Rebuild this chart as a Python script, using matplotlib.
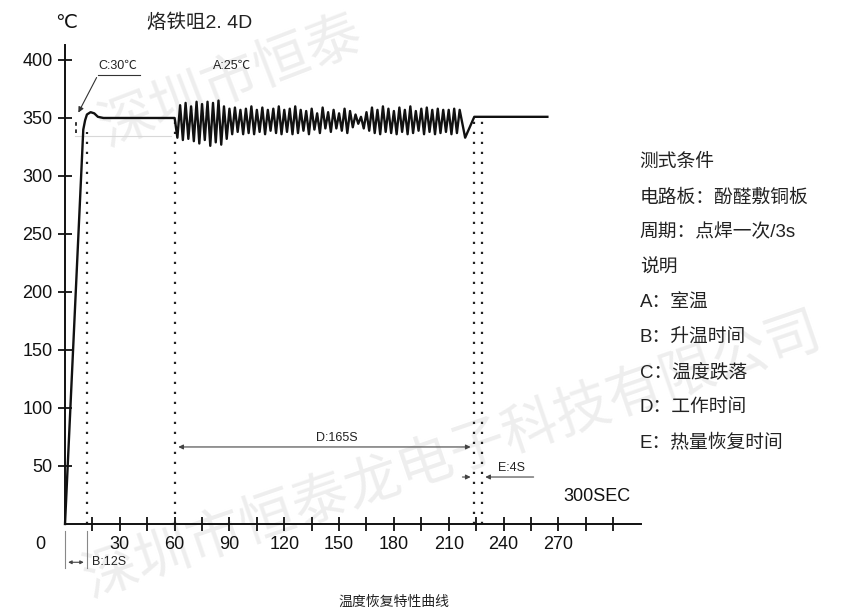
import numpy as np
import matplotlib.pyplot as plt

plt.rcParams['font.family'] = ['Liberation Sans', 'Noto Sans CJK SC', 'DejaVu Sans']

# warm-up part of the curve (s, degC)
warm_t = [0, 10, 11, 12, 14, 16, 18, 21, 60]
warm_v = [0, 340, 348, 353, 355, 354, 351, 350, 350]

# working part: one reading every 1.5 s from 60 s (soldering every 3 s)
work_v = [350, 333, 361, 331, 363, 332, 360, 330, 364, 328,
          362, 331, 364, 326, 363, 329, 365, 327, 360, 332,
          358, 336, 359, 338, 357, 336, 358, 337, 360, 336,
          357, 338, 359, 336, 357, 339, 358, 337, 360, 336,
          357, 338, 358, 336, 360, 337, 357, 339, 356, 336,
          358, 340, 354, 337, 359, 341, 355, 338, 357, 341,
          354, 339, 358, 337, 356, 342, 353, 345, 351, 341,
          355, 339, 359, 337, 357, 336, 360, 338, 358, 337,
          356, 336, 359, 338, 357, 336, 360, 337, 356, 339,
          358, 336, 359, 338, 357, 336, 358, 337, 357, 338,
          357, 336, 358, 337, 357]
work_step = 1.5

# recovery and steady part
rec_t = [219, 224, 264]
rec_v = [333, 351, 351]

yticks = [50, 100, 150, 200, 250, 300, 350, 400]
xticks = list(range(15, 301, 15))
xlabels = ['30', '60', '90', '120', '150', '180', '210', '240', '270']

notes = ['测式条件', '电路板：酚醛敷铜板', '周期：点焊一次/3s', '说明',
         'A：室温', 'B：升温时间', 'C：温度跌落', 'D：工作时间', 'E：热量恢复时间']

work_t = 60 + work_step * np.arange(len(work_v))
t = np.concatenate([warm_t, work_t[1:], rec_t])
v = np.concatenate([warm_v, work_v[1:], rec_v])

fig = plt.figure(figsize=(8.43, 6.11), dpi=100)
ax = fig.add_axes([0, 0, 1, 1])
ax.set_xlim(-35.58, 425.8)
ax.set_ylim(-75.0, 451.7)

# watermark
ax.text(20, 338, '深圳市恒泰', rotation=21, rotation_mode='anchor', ha='left',
        va='center', fontsize=40, color='#eeeeee', zorder=0,
        family='Noto Sans CJK SC')
ax.text(11, -50, '深圳市恒泰龙电子科技有限公司', rotation=19, rotation_mode='anchor',
        ha='left', va='center', fontsize=40, color='#eeeeee', zorder=0,
        family='Noto Sans CJK SC')

# axes
for side in ['top', 'right']:
    ax.spines[side].set_visible(False)
ax.spines['left'].set_position(('data', 0))
ax.spines['bottom'].set_position(('data', 0))
ax.spines['left'].set_bounds(0, 413)
ax.spines['bottom'].set_bounds(0, 315)
for side in ['left', 'bottom']:
    ax.spines[side].set_linewidth(1.4)
    ax.spines[side].set_color('#111111')
    ax.spines[side].set_zorder(3)
ax.set_yticks(yticks)
ax.set_yticklabels([str(y) for y in yticks])
ax.set_xticks(xticks)
ax.set_xticklabels([str(x) if str(x) in xlabels else '' for x in xticks])
ax.tick_params(direction='inout', length=10, width=1.3, color='#111111',
               labelsize=13, labelcolor='#111111', pad=4)
ax.text(-13.7, -18, '0', ha='center', va='center', fontsize=13, color='#111111')

# curve
ax.plot(t, v, color='#111111', lw=1.7, zorder=4)

# dotted guide lines
dot = dict(color='#222222', lw=1.6, linestyle=(0, (1, 3.5)), zorder=2)
ax.plot([12, 12], [0, 338], **dot)
ax.plot([60, 60], [0, 349], **dot)
ax.plot([224, 224], [0, 350], **dot)
ax.plot([228, 228], [0, 350], **dot)
ax.plot([5.8, 5.8], [337, 349], color='#222222', lw=1.3, linestyle=(0, (2, 2)))
ax.plot([5.5, 58], [334.5, 334.5], color='#d8d8d8', lw=0.8, zorder=1)

# C annotation
ax.annotate('', xy=(6.6, 352.5), xytext=(18, 387),
            arrowprops=dict(arrowstyle='-|>', color='#333333', lw=0.8,
                            mutation_scale=8))
ax.plot([18, 41], [387, 387], color='#333333', lw=0.8)
ax.text(18.5, 390, 'C:30℃', fontsize=9, ha='left', va='bottom', color='#222222')
ax.text(81, 390, 'A:25℃', fontsize=9, ha='left', va='bottom', color='#222222')

# D dimension
ax.annotate('', xy=(60.5, 66.4), xytext=(223.5, 66.4),
            arrowprops=dict(arrowstyle='<|-|>', color='#444444', lw=0.8,
                            mutation_scale=7))
ax.text(149, 69, 'D:165S', fontsize=9, ha='center', va='bottom', color='#222222')

# E dimension
ax.annotate('', xy=(223.5, 40.5), xytext=(216, 40.5),
            arrowprops=dict(arrowstyle='-|>', color='#444444', lw=0.8,
                            mutation_scale=7))
ax.annotate('', xy=(228.5, 40.5), xytext=(258, 40.5),
            arrowprops=dict(arrowstyle='-|>', color='#444444', lw=0.8,
                            mutation_scale=7))
ax.text(244.5, 43, 'E:4S', fontsize=9, ha='center', va='bottom', color='#222222')

# B dimension
ax.plot([0, 0], [-6, -38], color='#888888', lw=0.8)
ax.plot([12, 12], [-6, -38], color='#888888', lw=0.8)
ax.annotate('', xy=(0.2, -33), xytext=(11.8, -33),
            arrowprops=dict(arrowstyle='<|-|>', color='#444444', lw=0.8,
                            mutation_scale=5))
ax.text(14.5, -33, 'B:12S', fontsize=9, ha='left', va='center', color='#222222')

ax.text(291, 24, '300SEC', fontsize=13, ha='center', va='center', color='#111111')

# titles
ax.text(0.5, 432, '℃', fontsize=14, ha='center', va='center', color='#111111',
        family=['DejaVu Sans'])
ax.text(45, 432, '烙铁咀2. 4D', fontsize=14, ha='left', va='center', color='#222222')
ax.text(180, -67, '温度恢复特性曲线', fontsize=10, ha='center', va='center',
        color='#222222')

# side notes
for i, line in enumerate(notes):
    ax.text(314.5, 311.5 - i * 30.2, line, fontsize=13.5, ha='left', va='center',
            color='#222222')

fig.savefig('out.png', dpi=100)
